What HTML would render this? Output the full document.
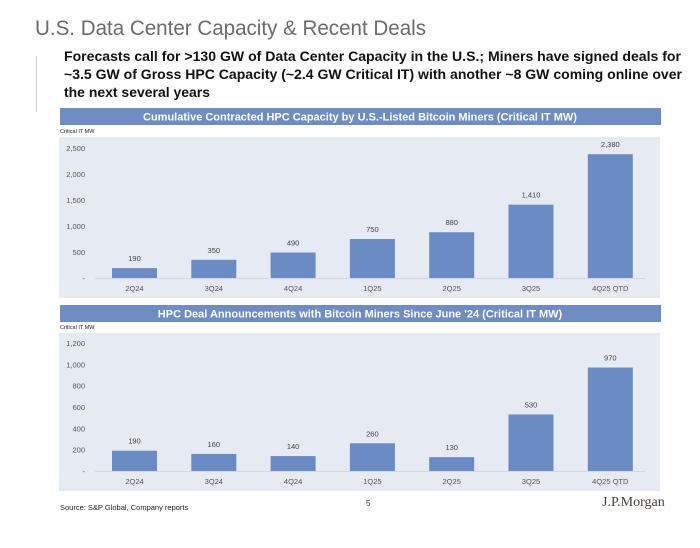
<!DOCTYPE html>
<html><head><meta charset="utf-8"><style>
html,body{margin:0;padding:0;background:#fff;width:700px;height:548px;overflow:hidden}
svg{display:block;font-family:"Liberation Sans",Arial,sans-serif}
</style></head><body>
<svg id="page" width="700" height="548" viewBox="0 0 700 548">
<text x="35" y="35" font-size="21" fill="#6b6b6b" textLength="391" lengthAdjust="spacingAndGlyphs">U.S. Data Center Capacity &amp; Recent Deals</text>
<line x1="36.5" y1="56" x2="36.5" y2="112" stroke="#d0d0d0" stroke-width="1"/>
<g font-weight="bold" font-size="14" fill="#111">
<text x="64" y="61" textLength="617" lengthAdjust="spacingAndGlyphs">Forecasts call for &gt;130 GW of Data Center Capacity in the U.S.; Miners have signed deals for</text>
<text x="64" y="79" textLength="618" lengthAdjust="spacingAndGlyphs">~3.5 GW of Gross HPC Capacity (~2.4 GW Critical IT) with another ~8 GW coming online over</text>
<text x="64" y="97" textLength="146" lengthAdjust="spacingAndGlyphs">the next several years</text>
</g>
<g id="c1"></g>
<g id="c2"></g>
<text x="60" y="510" font-size="7.5" fill="#222">Source: S&amp;P Global, Company reports</text>
<text x="366" y="506" font-size="8" fill="#444">5</text>
<text x="602" y="506" font-size="14" fill="#4a3f35" font-family="Liberation Serif,serif">J.P.Morgan</text>
</svg>
<script>
const categories = ["2Q24","3Q24","4Q24","1Q25","2Q25","3Q25","4Q25 QTD"];
const cumulativeValues = [190,350,490,750,880,1410,2380];
const cumulativeTicks = [0,500,1000,1500,2000,2500];
const dealValues = [190,160,140,260,130,530,970];
const dealTicks = [0,200,400,600,800,1000,1200];
const NS="http://www.w3.org/2000/svg";
function mk(p,t,a){const e=document.createElementNS(NS,t);for(const k in a)e.setAttribute(k,a[k]);p.appendChild(e);return e;}
function fmt(v){return v===0?"-":v.toLocaleString("en-US");}
function draw(g,cfg){
  const hb=mk(g,"rect",{x:60,y:cfg.hy,width:601,height:17,fill:"#6e8dc3"});
  
  
  const ht=mk(g,"text",{x:360,y:cfg.hy+12.5,"font-size":"11","font-weight":"bold",fill:"#fff","text-anchor":"middle"});
  ht.textContent=cfg.title;
  
  
  const ul=mk(g,"text",{x:60,y:cfg.py-4,"font-size":"5.5",fill:"#222"});
  ul.textContent="Critical IT MW";
  
  
  const pn=mk(g,"rect",{x:59,y:cfg.py,width:601,height:cfg.ph,fill:"#e6eaf3"});
  
  
  const maxT=cfg.ticks[cfg.ticks.length-1];
  const y=v=>cfg.base-(v/maxT)*(cfg.base-cfg.top);
  const x0=134.5, step=79.3, bw=45;
  cfg.ticks.forEach(t=>{
    const tt=mk(g,"text",{x:85,y:y(t)+3,"font-size":"7.5",fill:"#555","text-anchor":"end"});
    tt.textContent=fmt(t);
    
    
  });
  const ax=mk(g,"line",{x1:95,x2:645,y1:cfg.base+0.5,y2:cfg.base+0.5,stroke:"#d3d7e0","stroke-width":1});
  
  
  categories.forEach((c,i)=>{
    const cx=x0+i*step, v=cfg.values[i];
    const b=mk(g,"rect",{x:cx-bw/2,y:y(v),width:bw,height:cfg.base-y(v),fill:"#6b8bc4"});
    
    
    const vl=mk(g,"text",{x:cx,y:y(v)-7,"font-size":"7.5",fill:"#444","text-anchor":"middle"});
    vl.textContent=fmt(v);
    
    
    const xl=mk(g,"text",{x:cx,y:cfg.base+13,"font-size":"7.5",fill:"#555","text-anchor":"middle"});
    xl.textContent=c;
    
    
  });
}
draw(document.getElementById("c1"),{hy:108,py:137,ph:161,top:148,base:278,ticks:cumulativeTicks,values:cumulativeValues,title:"Cumulative Contracted HPC Capacity by U.S.-Listed Bitcoin Miners (Critical IT MW)"});
draw(document.getElementById("c2"),{hy:305,py:333,ph:158,top:343,base:471,ticks:dealTicks,values:dealValues,title:"HPC Deal Announcements with Bitcoin Miners Since June '24 (Critical IT MW)"});
</script>
</body></html>
